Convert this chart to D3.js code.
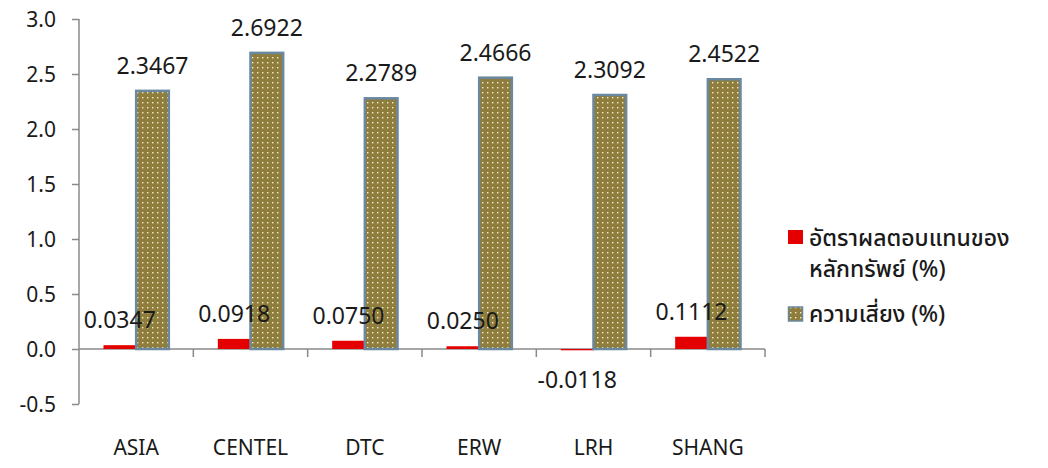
<!DOCTYPE html>
<html>
<head>
<meta charset="utf-8">
<script src="https://d3js.org/d3.v7.min.js"></script>
<style>
  body { margin: 0; background: #fff; }
  text { font-family: "Noto Sans", "Noto Sans Thai", sans-serif; fill: #1a1a1a; }
</style>
</head>
<body>
<svg id="chart" width="1048" height="468"></svg>
<script>
var categories = ["ASIA", "CENTEL", "DTC", "ERW", "LRH", "SHANG"];
var returns = [0.0347, 0.0918, 0.0750, 0.0250, -0.0118, 0.1112];
var risks = [2.3467, 2.6922, 2.2789, 2.4666, 2.3092, 2.4522];
var legendLines = [["อัตราผลตอบแทนของ", "หลักทรัพย์ (%)"], ["ความเสี่ยง (%)"]];
var yTicks = [-0.5, 0, 0.5, 1, 1.5, 2, 2.5, 3];

// plain hyphen for negatives, like the original
var fmt1 = function(d) { return d3.format(".1f")(d).replace("−", "-"); };
var fmt4 = function(d) { return d3.format(".4f")(d).replace("−", "-"); };

var svg = d3.select("#chart");

var defs = svg.append("defs");
var pat = defs.append("pattern")
    .attr("id", "dots")
    .attr("patternUnits", "userSpaceOnUse")
    .attr("width", 5).attr("height", 5);
pat.append("rect").attr("width", 5).attr("height", 5).attr("fill", "#8e7d3c");
pat.append("rect").attr("x", 2).attr("y", 2).attr("width", 1.4).attr("height", 1.4).attr("fill", "#f4eecb");

var left = 79, right = 765;
var x = d3.scaleBand().domain(categories).range([left, right]);
var xs = d3.scaleBand().domain([0, 1]).range([0, x.bandwidth()]).paddingOuter(0.75);
var y = d3.scaleLinear().domain([-0.5, 3]).range([404, 19]);

// y axis
var yAxis = svg.append("g")
    .attr("transform", "translate(" + left + ",0)")
    .call(d3.axisLeft(y).tickValues(yTicks).tickSize(7).tickPadding(16).tickFormat(fmt1));
yAxis.selectAll("path, line").attr("stroke", "#8a8a8a").attr("stroke-width", 1.5);
yAxis.select(".domain").attr("d", "M0," + y(3) + "V" + y(-0.5));
yAxis.selectAll("text").style("font-size", "21px").attr("fill", "#1a1a1a").attr("dy", "0.35em");

// x axis line at zero
var xAxis = svg.append("g")
    .attr("transform", "translate(0," + y(0) + ")")
    .call(d3.axisBottom(x).tickSize(0).tickFormat(""));
xAxis.select(".domain").attr("stroke", "#8a8a8a").attr("stroke-width", 1.5)
    .attr("d", "M" + left + ",0H" + right);
xAxis.selectAll(".tick").remove();
svg.append("g").selectAll("line")
    .data(categories)
    .enter().append("line")
    .attr("x1", function(d) { return x(d) + x.bandwidth(); })
    .attr("x2", function(d) { return x(d) + x.bandwidth(); })
    .attr("y1", y(0)).attr("y2", y(0) + 8)
    .attr("stroke", "#8a8a8a").attr("stroke-width", 1.5);

// category labels
svg.append("g").selectAll("text")
    .data(categories)
    .enter().append("text")
    .attr("x", function(d) { return x(d) + x.bandwidth() / 2; })
    .attr("y", 455)
    .attr("text-anchor", "middle")
    .style("font-size", "21px")
    .text(function(d) { return d; });

// return bars
svg.append("g").selectAll("rect")
    .data(returns)
    .enter().append("rect")
    .attr("x", function(d, i) { return x(categories[i]) + xs(0); })
    .attr("width", xs.bandwidth())
    .attr("y", function(d) { return y(Math.max(0, d)); })
    .attr("height", function(d) { return Math.abs(y(d) - y(0)); })
    .attr("fill", "#e50000");

// risk bars
svg.append("g").selectAll("rect")
    .data(risks)
    .enter().append("rect")
    .attr("x", function(d, i) { return x(categories[i]) + xs(1); })
    .attr("width", xs.bandwidth())
    .attr("y", function(d) { return y(d); })
    .attr("height", function(d) { return y(0) - y(d); })
    .attr("fill", "url(#dots)")
    .attr("stroke", "#6a88a0").attr("stroke-width", 2.5);

// value labels
function labelY(d) { return d >= 0 ? y(d) - 17 : y(d) + 38; }
svg.append("g").selectAll("text")
    .data(returns)
    .enter().append("text")
    .attr("x", function(d, i) { return x(categories[i]) + xs(0) + xs.bandwidth() / 2; })
    .attr("y", labelY)
    .attr("text-anchor", "middle")
    .style("font-size", "23px")
    .text(fmt4);
svg.append("g").selectAll("text")
    .data(risks)
    .enter().append("text")
    .attr("x", function(d, i) { return x(categories[i]) + xs(1) + xs.bandwidth() / 2; })
    .attr("y", labelY)
    .attr("text-anchor", "middle")
    .style("font-size", "23px")
    .text(fmt4);

// legend
var lg = svg.append("g").attr("transform", "translate(788,0)");
lg.append("rect").attr("x", 0).attr("y", 230).attr("width", 15).attr("height", 14).attr("fill", "#e50000");
lg.append("rect").attr("x", 0.5).attr("y", 307).attr("width", 14).attr("height", 14)
    .attr("fill", "url(#dots)").attr("stroke", "#6a88a0").attr("stroke-width", 1.5);
var lineY = [[246, 277], [322]];
legendLines.forEach(function(lines, k) {
  lines.forEach(function(t, j) {
    lg.append("text").attr("x", 21).attr("y", lineY[k][j])
      .style("font-size", "23px").style("font-weight", "500").attr("fill", "#222")
      .text(t);
  });
});
</script>
</body>
</html>
